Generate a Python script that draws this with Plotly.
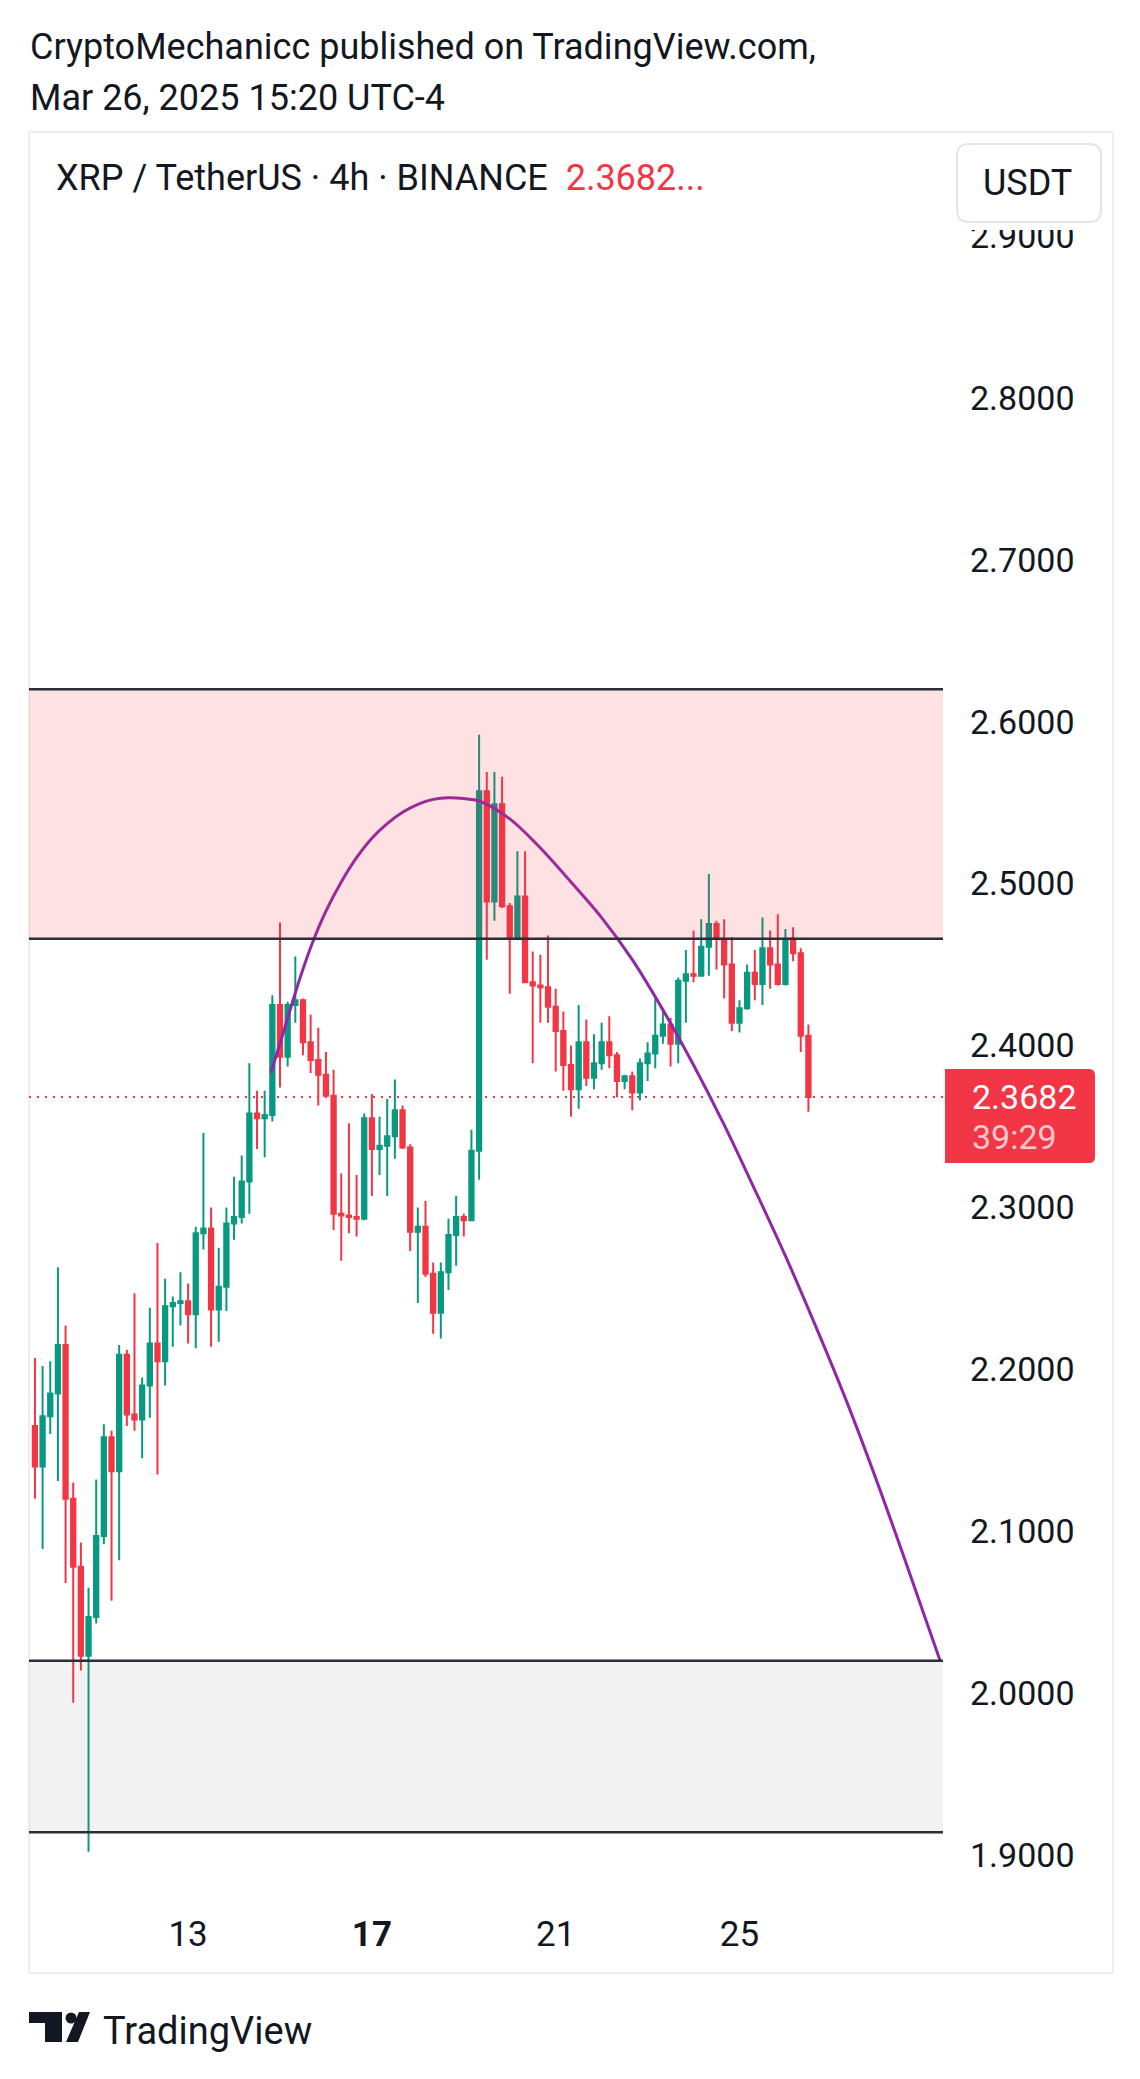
import pandas as pd
import plotly.graph_objects as go

# --- XRP/USDT 4h candles, first one opens 2025-03-09 16:00 (UTC-4) ---
first_candle = "2025-03-09 16:00"

open_ = [2.165, 2.140, 2.171, 2.185, 2.215, 2.120, 2.078, 2.023, 2.047, 2.097,
         2.158, 2.137, 2.209, 2.172, 2.169, 2.190, 2.216, 2.205, 2.239, 2.241,
         2.242, 2.234, 2.284, 2.287, 2.237, 2.251, 2.290, 2.294, 2.316, 2.358,
         2.355, 2.357, 2.425, 2.393, 2.425, 2.428, 2.402, 2.391, 2.382, 2.369,
         2.296, 2.295, 2.294, 2.293, 2.355, 2.336, 2.338, 2.344, 2.360, 2.337,
         2.285, 2.288, 2.259, 2.235, 2.260, 2.283, 2.294, 2.292, 2.335, 2.557,
         2.489, 2.549, 2.486, 2.466, 2.492, 2.439, 2.437, 2.436, 2.424, 2.409,
         2.388, 2.373, 2.402, 2.380, 2.389, 2.402, 2.394, 2.378, 2.381, 2.371,
         2.389, 2.395, 2.406, 2.413, 2.401, 2.440, 2.444, 2.443, 2.461, 2.475,
         2.466, 2.450, 2.414, 2.423, 2.445, 2.438, 2.460, 2.450, 2.438, 2.466,
         2.457, 2.406]
high = [2.207, 2.202, 2.205, 2.263, 2.227, 2.130, 2.093, 2.065, 2.132, 2.166,
        2.162, 2.215, 2.212, 2.247, 2.195, 2.238, 2.278, 2.256, 2.245, 2.260,
        2.253, 2.288, 2.346, 2.300, 2.275, 2.300, 2.319, 2.332, 2.389, 2.372,
        2.372, 2.431, 2.476, 2.427, 2.455, 2.429, 2.419, 2.411, 2.396, 2.385,
        2.321, 2.352, 2.320, 2.358, 2.370, 2.356, 2.367, 2.379, 2.363, 2.339,
        2.300, 2.304, 2.266, 2.266, 2.293, 2.307, 2.296, 2.348, 2.592, 2.569,
        2.569, 2.566, 2.488, 2.520, 2.520, 2.458, 2.456, 2.468, 2.435, 2.421,
        2.400, 2.425, 2.416, 2.407, 2.414, 2.418, 2.396, 2.382, 2.384, 2.392,
        2.402, 2.429, 2.423, 2.417, 2.442, 2.459, 2.471, 2.478, 2.506, 2.477,
        2.478, 2.467, 2.428, 2.450, 2.459, 2.479, 2.471, 2.481, 2.472, 2.473,
        2.460, 2.413]
low = [2.120, 2.089, 2.160, 2.131, 2.068, 1.994, 2.014, 1.902, 2.043, 2.092,
       2.057, 2.082, 2.165, 2.162, 2.145, 2.170, 2.135, 2.190, 2.214, 2.227,
       2.216, 2.213, 2.274, 2.214, 2.217, 2.236, 2.280, 2.290, 2.296, 2.336,
       2.331, 2.353, 2.374, 2.387, 2.414, 2.394, 2.383, 2.363, 2.368, 2.286,
       2.267, 2.284, 2.282, 2.292, 2.307, 2.320, 2.307, 2.330, 2.336, 2.273,
       2.241, 2.257, 2.222, 2.219, 2.249, 2.264, 2.282, 2.292, 2.317, 2.453,
       2.477, 2.485, 2.432, 2.465, 2.439, 2.389, 2.414, 2.414, 2.384, 2.372,
       2.356, 2.361, 2.375, 2.373, 2.385, 2.386, 2.368, 2.373, 2.360, 2.366,
       2.378, 2.386, 2.401, 2.387, 2.389, 2.414, 2.439, 2.443, 2.443, 2.447,
       2.429, 2.409, 2.408, 2.422, 2.428, 2.425, 2.435, 2.437, 2.437, 2.452,
       2.396, 2.359]
close = [2.140, 2.171, 2.185, 2.215, 2.120, 2.078, 2.023, 2.047, 2.097, 2.158,
         2.137, 2.209, 2.172, 2.169, 2.190, 2.216, 2.205, 2.239, 2.241, 2.242,
         2.234, 2.284, 2.287, 2.237, 2.251, 2.290, 2.294, 2.316, 2.358, 2.355,
         2.357, 2.425, 2.393, 2.425, 2.428, 2.402, 2.391, 2.382, 2.369, 2.296,
         2.295, 2.294, 2.293, 2.355, 2.336, 2.338, 2.344, 2.360, 2.337, 2.285,
         2.288, 2.259, 2.235, 2.260, 2.283, 2.294, 2.292, 2.335, 2.557, 2.489,
         2.549, 2.486, 2.466, 2.492, 2.439, 2.437, 2.436, 2.424, 2.409, 2.388,
         2.373, 2.402, 2.380, 2.389, 2.402, 2.394, 2.378, 2.381, 2.371, 2.389,
         2.395, 2.406, 2.413, 2.401, 2.440, 2.444, 2.443, 2.461, 2.475, 2.466,
         2.450, 2.414, 2.423, 2.445, 2.438, 2.460, 2.450, 2.438, 2.466, 2.457,
         2.406, 2.3682]

# purple arc drawing: hours after the first candle, price
arc_hours = [123.2, 130, 138, 144.8, 152, 160, 168, 176, 184, 192,
             200, 208, 216, 224, 232, 248, 264, 280, 296, 312,
             328, 344, 360, 376, 392, 408, 424, 440, 456, 472.8]
arc_price = [2.383, 2.409, 2.440, 2.463, 2.483, 2.501, 2.516, 2.528, 2.537, 2.544,
             2.549, 2.552, 2.553, 2.5525, 2.551, 2.540, 2.522, 2.501, 2.479, 2.453,
             2.422, 2.388, 2.351, 2.311, 2.270, 2.226, 2.180, 2.130, 2.077, 2.020]

supply_zone = [2.466, 2.620]
demand_zone = [1.914, 2.020]
last_price = 2.3682
countdown = "39:29"

price_ticks = [1.9, 2.0, 2.1, 2.2, 2.3, 2.4, 2.5, 2.6, 2.7, 2.8, 2.9]
price_labels = ["1.9000", "2.0000", "2.1000", "2.2000", "2.3000", "2.4000",
                "2.5000", "2.6000", "2.7000", "2.8000", "2.9000"]
date_ticks = ["2025-03-13", "2025-03-17", "2025-03-21", "2025-03-25"]
date_labels = ["13", "<b>17</b>", "21", "25"]

t0 = pd.Timestamp(first_candle)
times = pd.date_range(t0, periods=len(close), freq="4h")
arc_x = t0 + pd.to_timedelta(arc_hours, unit="h")

# page size and plot area in page pixels (the page body adds an 8px margin)
PAGE_W, PAGE_H, OFF = 1140, 2079, 8
L, R, T, B = 29, 943, 230, 1900
FONT = "Roboto"
INK = "#131722"
RED = "#f23645"
GREEN = "#089981"


def px(x):
    return (x - L) / (R - L)


def py(y):
    return (B - y) / (B - T)


def rounded_rect(x0, y0, x1, y1, r, rl=None):
    rl = r if rl is None else rl
    return (f"M {px(x0 + rl)},{py(y0)} L {px(x1 - r)},{py(y0)} "
            f"Q {px(x1)},{py(y0)} {px(x1)},{py(y0 + r)} "
            f"L {px(x1)},{py(y1 - r)} Q {px(x1)},{py(y1)} {px(x1 - r)},{py(y1)} "
            f"L {px(x0 + rl)},{py(y1)} Q {px(x0)},{py(y1)} {px(x0)},{py(y1 - rl)} "
            f"L {px(x0)},{py(y0 + rl)} Q {px(x0)},{py(y0)} {px(x0 + rl)},{py(y0)} Z")


fig = go.Figure()
fig.add_trace(go.Candlestick(
    x=times, open=open_, high=high, low=low, close=close,
    increasing=dict(line=dict(color=GREEN, width=2), fillcolor=GREEN),
    decreasing=dict(line=dict(color=RED, width=2), fillcolor=RED),
    whiskerwidth=0, hoverinfo="skip",
))
fig.add_trace(go.Scatter(
    x=arc_x, y=arc_price, mode="lines",
    line=dict(color="#9027a8", width=3, shape="spline", smoothing=1),
    hoverinfo="skip",
))

shapes = [
    # outer frame
    dict(type="rect", xref="paper", yref="paper", x0=px(29), x1=px(1113),
         y0=py(132), y1=py(1973), line=dict(color="#eceef2", width=2),
         fillcolor="rgba(0,0,0,0)", layer="below"),
    # last price line
    dict(type="line", xref="paper", yref="y", x0=0, x1=1, y0=last_price, y1=last_price,
         line=dict(color=RED, width=2, dash="2px,6px"), layer="below"),
    # zones
    dict(type="rect", xref="paper", yref="y", x0=0, x1=1,
         y0=supply_zone[0], y1=supply_zone[1], fillcolor="rgba(242,54,69,0.15)",
         line=dict(width=0), layer="above"),
    dict(type="rect", xref="paper", yref="y", x0=0, x1=1,
         y0=demand_zone[0], y1=demand_zone[1], fillcolor="rgba(128,128,128,0.1)",
         line=dict(width=0), layer="above"),
]
for level in supply_zone + demand_zone:
    shapes.append(dict(type="line", xref="paper", yref="y", x0=0, x1=1, y0=level, y1=level,
                       line=dict(color="#2a2e39", width=2.5), layer="above"))

shapes += [
    # hide the top of the clipped 2.9000 label
    dict(type="rect", xref="paper", yref="paper", x0=px(948), x1=px(1108),
         y0=py(230), y1=py(190), fillcolor="white", line=dict(width=0), layer="above"),
    # currency button
    dict(type="path", xref="paper", yref="paper", path=rounded_rect(957, 144, 1101, 222, 12),
         fillcolor="white", line=dict(color="#e3e5ea", width=2), layer="above"),
    # last price tag
    dict(type="path", xref="paper", yref="paper", path=rounded_rect(945, 1069, 1095, 1163, 6, rl=0.5),
         fillcolor=RED, line=dict(width=0), layer="above"),
    # TradingView logo
    dict(type="rect", xref="paper", yref="paper", x0=px(29), x1=px(62), y0=py(2012), y1=py(2023),
         fillcolor=INK, line=dict(width=0), layer="above"),
    dict(type="rect", xref="paper", yref="paper", x0=px(45), x1=px(62), y0=py(2012), y1=py(2042),
         fillcolor=INK, line=dict(width=0), layer="above"),
    dict(type="circle", xref="paper", yref="paper", x0=px(65.5), x1=px(76.5), y0=py(2012.5), y1=py(2023.5),
         fillcolor=INK, line=dict(width=0), layer="above"),
    dict(type="path", xref="paper", yref="paper",
         path=f"M {px(79)},{py(2012)} L {px(90)},{py(2012)} L {px(78)},{py(2042)} L {px(66)},{py(2042)} Z",
         fillcolor=INK, line=dict(width=0), layer="above"),
]


def note(text, x, y, size=36, color=INK, anchor="left"):
    return dict(text=text, x=px(x), y=py(y), xref="paper", yref="paper", showarrow=False,
                xanchor=anchor, yanchor="middle", font=dict(family=FONT, size=size, color=color))


annotations = [
    note("CryptoMechanicc published on TradingView.com,", 28, 47),
    note("Mar 26, 2025 15:20 UTC-4", 28, 98),
    note("XRP / TetherUS · 4h · BINANCE\u00a0 <span style='color:#f23645'>2.3682...</span>", 54, 178),
    note("USDT", 1027, 183, anchor="center"),
    note(f"{last_price:.4f}", 970, 1097, size=34, color="white"),
    note(countdown, 970, 1137, size=34, color="#fbc8cc"),
    note("TradingView", 101, 2031, size=38),
]

fig.update_layout(
    width=PAGE_W - OFF, height=PAGE_H - OFF,
    margin=dict(l=L - OFF, r=PAGE_W - R, t=T - OFF, b=PAGE_H - B),
    paper_bgcolor="white", plot_bgcolor="white",
    showlegend=False,
    boxgap=0.25, boxgroupgap=0.25,
    shapes=shapes, annotations=annotations,
    xaxis=dict(
        type="date", rangeslider=dict(visible=False),
        range=[t0 - pd.Timedelta(hours=3.1), t0 + pd.Timedelta(hours=474.3)],
        tickvals=date_ticks, ticktext=date_labels,
        showgrid=False, zeroline=False, showline=False, ticks="",
        tickfont=dict(family=FONT, size=35, color=INK), ticklabelstandoff=10,
    ),
    yaxis=dict(
        side="right", range=[1.8722, 2.9037],
        tickvals=price_ticks, ticktext=price_labels,
        showgrid=False, zeroline=False, showline=False, ticks="",
        tickfont=dict(family=FONT, size=34, color=INK), ticklabelstandoff=26,
    ),
)

fig.write_html("out.html")
